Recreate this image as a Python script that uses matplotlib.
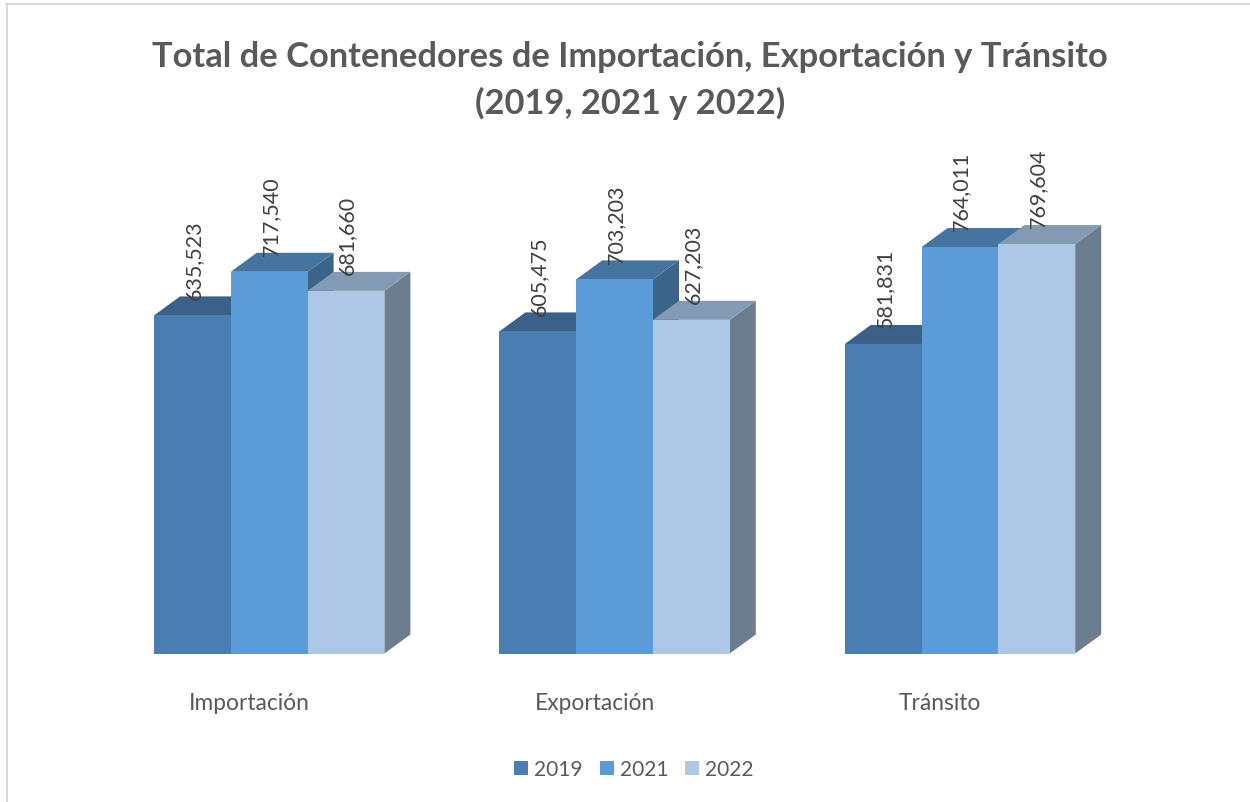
import matplotlib
matplotlib.use("Agg")
import matplotlib.pyplot as plt
from matplotlib.lines import Line2D
from matplotlib.patches import Polygon
import numpy as np

plt.rcParams['font.family'] = ['Lato', 'DejaVu Sans']

categories = ["Importación", "Exportación", "Tránsito"]
years = ["2019", "2021", "2022"]
v2019 = [635523, 605475, 581831]
v2021 = [717540, 703203, 764011]
v2022 = [681660, 627203, 769604]
series = [v2019, v2021, v2022]

front = ["#4A7DB1", "#5B9BD7", "#AEC7E6"]
top = ["#3A6288", "#44749F", "#839AB4"]
side = ["#34597C", "#3A6488", "#6C7D8F"]

W, H = 1250, 803
base_px = 654.5
group_px = 345.4
bar_px = 76.8
first_left = 154
px_per_val = 0.000532
depth_x = 26 / group_px
depth_y = 19 / px_per_val
bar_w = bar_px / group_px

fig = plt.figure(figsize=(W / 100, H / 100), dpi=100)
ax = fig.add_axes([0, (H - base_px) / H, 1, base_px / H])
ax.set_xlim(-(first_left + 1.5 * bar_px) / group_px, (W - first_left - 1.5 * bar_px) / group_px)
ax.set_ylim(0, base_px / px_per_val)

x = np.arange(len(categories))
handles = []
for s, vals in enumerate(series):
    pos = x + (s - 1) * bar_w
    for p, v in zip(pos, vals):
        r = p + bar_w / 2
        ax.add_patch(Polygon([(r, 0), (r + depth_x, depth_y), (r + depth_x, v + depth_y), (r, v)],
                             closed=True, fc=side[s], ec="none", zorder=2 + s))
        ax.add_patch(Polygon([(r - bar_w, v), (r - bar_w + depth_x, v + depth_y), (r + depth_x, v + depth_y), (r, v)],
                             closed=True, fc=top[s], ec="none", zorder=2 + s))
    bars = ax.bar(pos, vals, bar_w, color=front[s], zorder=2.5 + s, label=years[s])
    handles.append(bars)
    for p, v in zip(pos, vals):
        ax.annotate(f"{v:,}", (p, v), xytext=(1, 12), textcoords="offset points", rotation=90,
                    ha="center", va="bottom", fontsize=15.5, color="#404040", zorder=10)

ax.set_xticks(x - 20 / group_px)
ax.set_xticklabels(categories, fontsize=16.4, color="#595959")
ax.tick_params(axis="x", length=0, pad=28)
ax.set_yticks([])
for sp in ax.spines.values():
    sp.set_visible(False)

ax.legend(handles=handles, loc="center", bbox_to_anchor=(634 / W, -(770 - base_px) / base_px),
          ncol=3, frameon=False, fontsize=15, labelcolor="#595959", handlelength=0.67, handleheight=0.67,
          handletextpad=0.3, columnspacing=0.8)

fig.text(630 / W, 1 - 80.5 / H, "Total de Contenedores de Importación, Exportación y Tránsito\n(2019, 2021 y 2022)",
         ha="center", va="center", fontsize=24.8, fontweight="bold", color="#595959", linespacing=1.5)

# chart border, only top and left show in the picture
fig.add_artist(Line2D([6.5 / W, 6.5 / W], [0, 1 - 5 / H], color="#D9D9D9", lw=1.5))
fig.add_artist(Line2D([6 / W, 1], [1 - 5 / H, 1 - 5 / H], color="#D9D9D9", lw=1.5))

fig.savefig("out.png", dpi=100)
